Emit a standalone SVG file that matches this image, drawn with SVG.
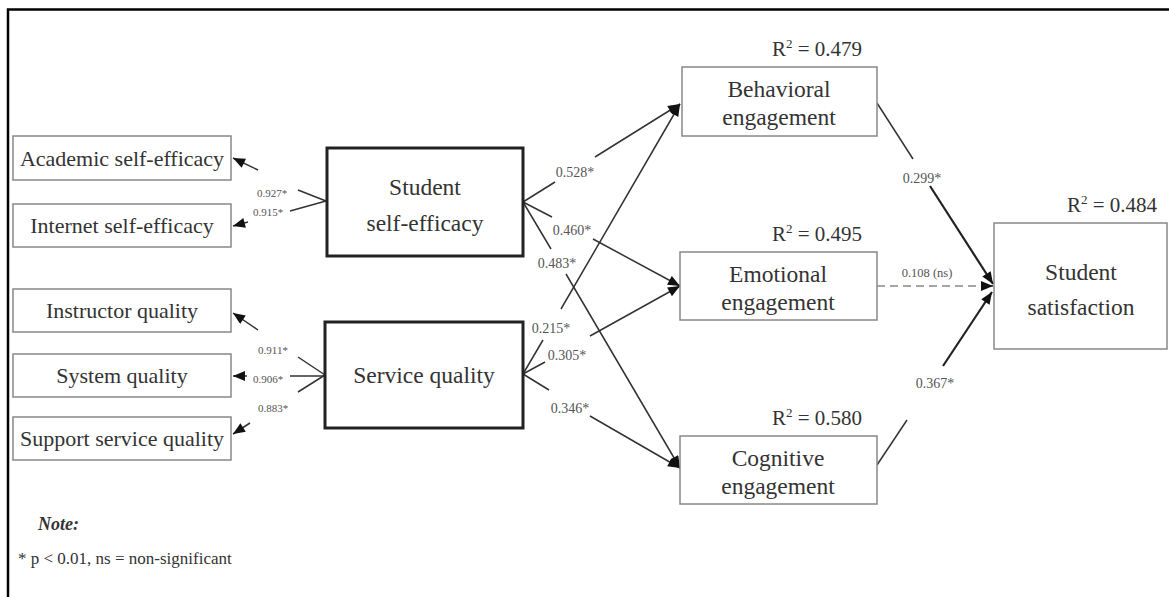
<svg xmlns="http://www.w3.org/2000/svg" width="1169" height="597" viewBox="0 0 1169 597">
<style>
text{font-family:"Liberation Serif","Times New Roman",serif;fill:#333;text-anchor:middle}
.box{fill:#fff;stroke:#888;stroke-width:1.5}
.tbox{fill:#fff;stroke:#222;stroke-width:3}
.lt{font-size:22px}
.mt{font-size:23.5px}
.r2{font-size:21px;text-anchor:start}
.el{font-size:11px;fill:#555}
.ml{font-size:14px;fill:#555}
.c{fill:none;stroke:#333;stroke-width:1.5}
.cb{fill:none;stroke:#222;stroke-width:2.2}
.d{fill:none;stroke:#888;stroke-width:1.5;stroke-dasharray:8 5}
</style>
<defs>
<marker id="ah" viewBox="0 0 12 10" markerWidth="13" markerHeight="10" refX="12" refY="5" orient="auto" markerUnits="userSpaceOnUse">
<path d="M0,0 L12,5 L0,10 z" fill="#111"/>
</marker>
</defs>
<rect width="1169" height="597" fill="#fff"/>
<g id="frame" fill="none" stroke="#000" stroke-width="2.5">
<path d="M8,597 L8,9.5 L1169,9.5"/>
</g>
<g id="connectors">
<path class="c" d="M326,201 L298,190 M258,170 L233,158" marker-end="url(#ah)"/>
<path class="c" d="M326,201 L290,211 M248,222 L233,226" marker-end="url(#ah)"/>
<path class="c" d="M325,375 L298,357 M258,330 L233,313" marker-end="url(#ah)"/>
<path class="c" d="M325,376 L290,376 M247,376 L233,376" marker-end="url(#ah)"/>
<path class="c" d="M325,375 L298,392 M250,423 L233,434" marker-end="url(#ah)"/>
<path class="c" d="M523,202 L555,182 M595,157 L680,104" marker-end="url(#ah)"/>
<path class="c" d="M523,202 L552,217 M593,239 L680,286" marker-end="url(#ah)"/>
<path class="c" d="M523,202 L551,249 M566,274 L680,468" marker-end="url(#ah)"/>
<path class="c" d="M523,374 L543,340 M561,309 L680,104" marker-end="url(#ah)"/>
<path class="c" d="M523,374 L545,362 M590,336 L680,286" marker-end="url(#ah)"/>
<path class="c" d="M523,374 L549,390 M590,416 L680,468" marker-end="url(#ah)"/>
<path class="c" d="M877,103 L913,159"/>
<path class="cb" d="M930,186 L993,284" marker-end="url(#ah)"/>
<path class="d" d="M877,286 L981,286"/>
<path class="c" d="M981,286 L993,286" marker-end="url(#ah)"/>
<path class="c" d="M877,465 L907,420"/>
<path class="cb" d="M943,366 L992,292" marker-end="url(#ah)"/>
<text class="el" x="272" y="197">0.927*</text>
<text class="el" x="268" y="216">0.915*</text>
<text class="el" x="273" y="354">0.911*</text>
<text class="el" x="268" y="383">0.906*</text>
<text class="el" x="273" y="412">0.883*</text>
<text class="ml" x="575" y="177">0.528*</text>
<text class="ml" x="572" y="235">0.460*</text>
<text class="ml" x="557" y="268">0.483*</text>
<text class="ml" x="551" y="333">0.215*</text>
<text class="ml" x="567" y="360">0.305*</text>
<text class="ml" x="570" y="413">0.346*</text>
<text class="ml" x="922" y="183">0.299*</text>
<text class="el" x="927" y="277" style="font-size:12.5px">0.108 (ns)</text>
<text class="ml" x="935" y="388">0.367*</text>
</g>
<g id="academic">
<rect class="box" x="13" y="136" width="218" height="44"/>
<text class="lt" x="122" y="166">Academic self-efficacy</text>
</g>
<g id="internet">
<rect class="box" x="13" y="204" width="218" height="43"/>
<text class="lt" x="122" y="233">Internet self-efficacy</text>
</g>
<g id="instructor">
<rect class="box" x="13" y="289" width="218" height="43"/>
<text class="lt" x="122" y="318">Instructor quality</text>
</g>
<g id="system">
<rect class="box" x="13" y="354" width="218" height="43"/>
<text class="lt" x="122" y="383">System quality</text>
</g>
<g id="support">
<rect class="box" x="13" y="417" width="218" height="43"/>
<text class="lt" x="122" y="446">Support service quality</text>
</g>
<g id="selfefficacy">
<rect class="tbox" x="327" y="148" width="196" height="108"/>
<text class="mt" x="425" y="195">Student</text>
<text class="mt" x="425" y="231">self-efficacy</text>
</g>
<g id="servicequality">
<rect class="tbox" x="325" y="322" width="198" height="106"/>
<text class="mt" x="424" y="383">Service quality</text>
</g>
<g id="behavioral">
<rect class="box" x="682" y="67" width="195" height="69"/>
<text class="mt" x="779" y="97">Behavioral</text>
<text class="mt" x="779" y="125">engagement</text>
<text class="r2" x="772" y="56">R<tspan dy="-8" font-size="13">2</tspan><tspan dy="8"> = 0.479</tspan></text>
</g>
<g id="emotional">
<rect class="box" x="680" y="252" width="197" height="68"/>
<text class="mt" x="778" y="282">Emotional</text>
<text class="mt" x="778" y="310">engagement</text>
<text class="r2" x="772" y="241">R<tspan dy="-8" font-size="13">2</tspan><tspan dy="8"> = 0.495</tspan></text>
</g>
<g id="cognitive">
<rect class="box" x="680" y="436" width="197" height="68"/>
<text class="mt" x="778" y="466">Cognitive</text>
<text class="mt" x="778" y="494">engagement</text>
<text class="r2" x="772" y="425">R<tspan dy="-8" font-size="13">2</tspan><tspan dy="8"> = 0.580</tspan></text>
</g>
<g id="satisfaction">
<rect class="box" x="994" y="223" width="173" height="126"/>
<text class="mt" x="1081" y="280">Student</text>
<text class="mt" x="1081" y="315">satisfaction</text>
<text class="r2" x="1067" y="212">R<tspan dy="-8" font-size="13">2</tspan><tspan dy="8"> = 0.484</tspan></text>
</g>
<g id="note">
<text x="38" y="530" style="font-size:18px;font-weight:bold;font-style:italic;text-anchor:start">Note:</text>
<text x="18" y="564" style="font-size:17px;text-anchor:start">* p &lt; 0.01, ns = non-significant</text>
</g>
</svg>
